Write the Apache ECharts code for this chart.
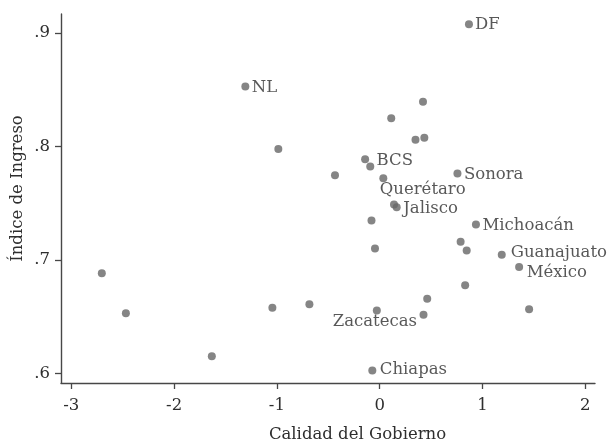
<!DOCTYPE html>
<html>
<head>
<meta charset="utf-8">
<script src="https://cdn.jsdelivr.net/npm/echarts@6/dist/echarts.min.js"></script>
<style>
  html, body { margin: 0; padding: 0; background: #fff; }
  #chart { width: 607px; height: 443px; }
</style>
</head>
<body>
<div id="chart"></div>
<script>
// Calidad del Gobierno (x) e Índice de Ingreso (y) por entidad federativa
const calidad = [
  0.868, -1.307, 0.421, 0.112, 0.348, 0.434, -0.986, -0.142, -0.092, -0.435,
  0.035, 0.756, 0.139, 0.165, -0.080, 0.936, 0.787, 0.846, -0.046, 1.187,
  1.356, 0.831, 0.462, 1.453, -0.028, 0.426, -0.072, -2.703, -2.469, -1.633,
  -1.044, -0.684
];
const ingreso = [
  0.9077, 0.8528, 0.8394, 0.8249, 0.8059, 0.8077, 0.7977, 0.7888, 0.7824, 0.7745,
  0.7719, 0.7761, 0.7488, 0.7464, 0.7347, 0.7312, 0.7160, 0.7083, 0.7100, 0.7046,
  0.6937, 0.6776, 0.6658, 0.6564, 0.6554, 0.6517, 0.6024, 0.6882, 0.6529, 0.6150,
  0.6578, 0.6608
];
const etiquetas = [
  'DF', 'NL', '', '', '', '', '', 'BCS', '', '',
  'Querétaro', 'Sonora', '', 'Jalisco', '', 'Michoacán', '', '', '', 'Guanajuato',
  'México', '', '', '', '', 'Zacatecas', 'Chiapas', '', '', '',
  '', ''
];

const xTicks = [-3, -2, -1, 0, 1, 2];
const yTicks = [0.6, 0.7, 0.8, 0.9];
const yTickLabels = ['.6', '.7', '.8', '.9'];

// label placement around each marker: offset of the text anchor from the point centre
const SYM = 8;
const placement = {
  'DF':         { dx: 6,    dy: 0.5,  align: 'left' },
  'NL':         { dx: 6.5,  dy: 1,    align: 'left' },
  'BCS':        { dx: 11.5, dy: 2,    align: 'left' },
  'Sonora':     { dx: 6.5,  dy: 1.5,  align: 'left' },
  'Querétaro':  { dx: -3.5, dy: 11.5, align: 'left' },
  'Jalisco':    { dx: 6.5,  dy: 1.5,  align: 'left' },
  'Michoacán':  { dx: 6.5,  dy: 1.5,  align: 'left' },
  'Guanajuato': { dx: 9,    dy: -1.5, align: 'left' },
  'México':     { dx: 7.5,  dy: 6,    align: 'left' },
  'Zacatecas':  { dx: -6.5, dy: 7.5,  align: 'right' },
  'Chiapas':    { dx: 7.5,  dy: -1,   align: 'left' }
};

const FONT = 'DejaVu Serif';
const FS = 16.5;
const TEXT = '#2e2e2e';
const AXIS = '#474747';
const DOT = '#666666';

const points = calidad.map((x, i) => {
  const name = etiquetas[i];
  const item = { value: [x, ingreso[i]], name: name };
  if (name) {
    const p = placement[name];
    item.label = {
      show: true,
      formatter: name,
      position: [SYM / 2 + p.dx, SYM / 2 + p.dy],
      align: p.align,
      verticalAlign: 'middle'
    };
  }
  return item;
});

const chart = echarts.init(document.getElementById('chart'), null, { renderer: 'canvas' });

chart.setOption({
  animation: false,
  backgroundColor: '#ffffff',
  textStyle: { fontFamily: FONT },
  grid: { left: 61, top: 14, width: 534, height: 369, containLabel: false },
  xAxis: {
    type: 'value',
    min: -3.1,
    max: 2.094,
    splitLine: { show: false },
    axisLine: { show: true, onZero: false, lineStyle: { color: AXIS, width: 1.4 } },
    axisTick: { show: true, length: 6, customValues: xTicks, lineStyle: { color: AXIS, width: 1.3 } },
    axisLabel: {
      customValues: xTicks,
      margin: 14,
      fontFamily: FONT,
      fontSize: FS,
      color: TEXT,
      formatter: v => String(Math.round(v))
    }
  },
  yAxis: {
    type: 'value',
    min: 0.59145,
    max: 0.91675,
    splitLine: { show: false },
    axisLine: { show: true, onZero: false, lineStyle: { color: AXIS, width: 1.4 } },
    axisTick: { show: true, length: 6, customValues: yTicks, lineStyle: { color: AXIS, width: 1.3 } },
    axisLabel: {
      customValues: yTicks,
      margin: 11,
      fontFamily: FONT,
      fontSize: FS,
      color: TEXT,
      formatter: v => {
        const k = yTicks.findIndex(t => Math.abs(t - v) < 1e-6);
        return k >= 0 ? yTickLabels[k] : '';
      }
    }
  },
  series: [{
    type: 'scatter',
    symbol: 'circle',
    symbolSize: SYM,
    itemStyle: { color: DOT },
    label: {
      show: false,
      fontFamily: FONT,
      fontSize: FS,
      color: TEXT
    },
    labelLayout: { hideOverlap: false },
    data: points
  }],
  graphic: [
    {
      type: 'text',
      x: 357.5,
      y: 435,
      style: {
        text: 'Calidad del Gobierno',
        font: FS + 'px "' + FONT + '"',
        fill: TEXT,
        align: 'center',
        verticalAlign: 'middle'
      }
    },
    {
      type: 'text',
      x: 18,
      y: 188.5,
      rotation: Math.PI / 2,
      style: {
        text: 'Índice de Ingreso',
        font: FS + 'px "' + FONT + '"',
        fill: TEXT,
        align: 'center',
        verticalAlign: 'middle'
      }
    }
  ]
});
</script>
</body>
</html>
